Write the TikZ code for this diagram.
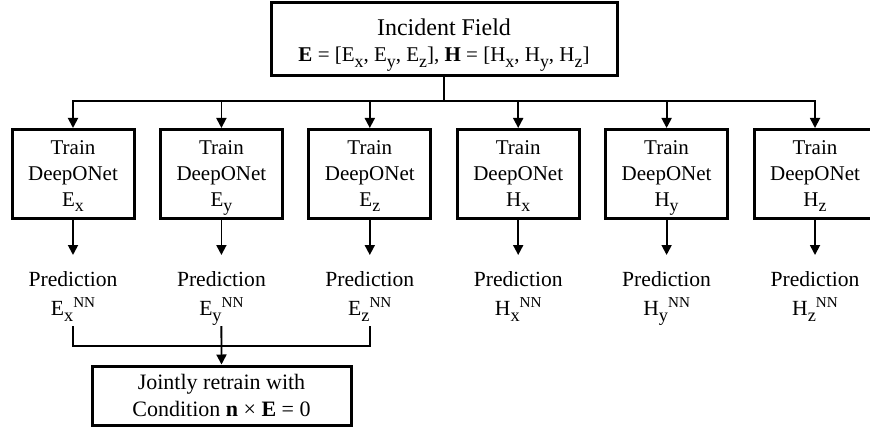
\documentclass[tikz,border=0pt]{standalone}
\usepackage{fontspec}
\setmainfont{Liberation Serif}
\usetikzlibrary{arrows.meta,positioning}

% indices set close to full size, as in the figure
\newcommand{\lowidx}[1]{\raisebox{-0.28em}{\scalebox{0.85}{#1}}}
\newcommand{\highidx}[1]{\raisebox{0.38em}{\scalebox{0.7}{#1}}}

\begin{document}
\begin{tikzpicture}[x=0.5pt,y=-0.5pt,>={Triangle[width=5pt,length=5pt]},node distance=17.5pt,
                    block/.style={rectangle, draw, line width=1.5pt, align=center, inner sep=0pt,
                                  minimum width=61pt, minimum height=44.5pt,
                                  font=\fontsize{10.5}{13}\selectfont},
                    pred/.style={align=center, inner xsep=2pt, inner ysep=5.5pt,
                                 font=\fontsize{10.8}{14.5}\selectfont},
                    link/.style={line width=0.9pt}]
  \useasboundingbox (0,0) rectangle (870,427);

  % Nodes
  \node[block, minimum width=173pt, minimum height=36.5pt] (field) at (444,39.5)
    {\fontsize{12}{15}\selectfont\rule{0pt}{13.5pt}Incident Field\\
     \fontsize{10.5}{15}\selectfont\textbf{E} = [E\lowidx{x}, E\lowidx{y}, E\lowidx{z}], \textbf{H} = [H\lowidx{x}, H\lowidx{y}, H\lowidx{z}]};
  \foreach \name/\comp/\sub [count=\i from 0] in {ex/E/x,ey/E/y,ez/E/z,hx/H/x,hy/H/y,hz/H/z} {
    \node[block] (train-\name) at (73+148.4*\i,174)
      {\rule{0pt}{11pt}Train\\DeepONet\\\comp\lowidx{\sub}\rule[-5pt]{0pt}{5pt}};
    \node[pred, below=of train-\name] (pred-\name)
      {\strut Prediction\\\comp\lowidx{\sub}\highidx{NN}\rule[-6pt]{0pt}{6pt}};
  }
  \node[block, minimum width=129.5pt, minimum height=29.5pt, font=\fontsize{11}{13.5}\selectfont] (joint) at (221.5,395.5)
    {Jointly retrain with\\Condition \textbf{n} × \textbf{E} = 0};

  % Edges
  \coordinate (split) at (444,101);
  \draw[link] (field.south) -- (split);
  \foreach \name in {ex,ey,ez,hx,hy,hz} {
    \draw[link,->] (split) -| (train-\name.north);
    \draw[link,->] (train-\name.south) -- (pred-\name.north);
  }
  \coordinate (merge) at (221.5,346);
  \draw[link,shorten <=-6.5pt] (pred-ex.south) |- (merge);
  \draw[link,shorten >=-6.5pt] (merge) -| (pred-ez.south);
  \draw[link,->,shorten <=-6.5pt] (pred-ey.south) -- (joint.north);
\end{tikzpicture}
\end{document}
